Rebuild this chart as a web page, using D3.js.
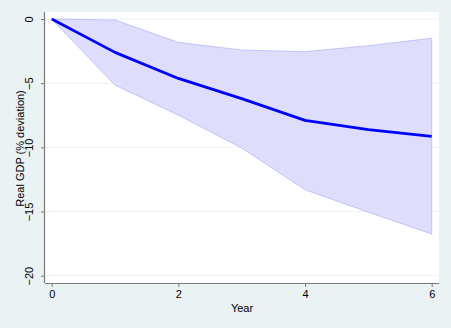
<!DOCTYPE html>
<html>
<head>
<meta charset="utf-8">
<script src="https://cdn.jsdelivr.net/npm/d3@7/dist/d3.min.js"></script>
<style>
  html, body { margin: 0; padding: 0; background: #eaf2f3; }
  svg { display: block; font-family: "Liberation Sans", Arial, sans-serif; }
</style>
</head>
<body>
<svg id="chart" width="451" height="328"></svg>
<script>
// Impulse response of real GDP with confidence band
const years   = [0, 1, 2, 3, 4, 5, 6];
const estimate = [0, -2.6, -4.63, -6.2, -7.9, -8.62, -9.14];
const upper    = [0, -0.08, -1.82, -2.42, -2.55, -2.08, -1.5];
const lower    = [0, -5.15, -7.49, -10.05, -13.3, -15.05, -16.75];
const xTicks = [0, 2, 4, 6];
const yTicks = [0, -5, -10, -15, -20];

const svg = d3.select("#chart");
const W = 451, H = 328;
const plot = { left: 45, right: 439, top: 12, bottom: 283 };

svg.append("rect").attr("width", W).attr("height", H).attr("fill", "#eaf2f3");
svg.append("rect")
  .attr("x", plot.left).attr("y", plot.top)
  .attr("width", plot.right - plot.left).attr("height", plot.bottom - plot.top)
  .attr("fill", "#ffffff");

const x = d3.scaleLinear().domain([0, 6]).range([51.7, 431.7]);
const y = d3.scaleLinear().domain([0, -20]).range([19, 275.7]);

// horizontal grid lines
svg.append("g").selectAll("line")
  .data(yTicks)
  .join("line")
  .attr("x1", plot.left).attr("x2", plot.right)
  .attr("y1", d => y(d)).attr("y2", d => y(d))
  .attr("stroke", "#eaf2f3").attr("stroke-width", 1);

const rows = years.map((t, i) => ({ t, est: estimate[i], hi: upper[i], lo: lower[i] }));

// confidence band
svg.append("path")
  .datum(rows)
  .attr("d", d3.area().x(d => x(d.t)).y0(d => y(d.lo)).y1(d => y(d.hi)))
  .attr("fill", "#dedefc")
  .attr("stroke", "#b8b8f8")
  .attr("stroke-width", 0.8);

// point estimate
svg.append("path")
  .datum(rows)
  .attr("d", d3.line().x(d => x(d.t)).y(d => y(d.est)))
  .attr("fill", "none")
  .attr("stroke", "#0000ff")
  .attr("stroke-width", 2.8)
  .attr("stroke-linejoin", "round");

// axes
const xAxis = svg.append("g")
  .attr("transform", `translate(0,${plot.bottom})`)
  .call(d3.axisBottom(x).tickValues(xTicks).tickSize(4).tickPadding(3).tickFormat(d3.format("d")));
xAxis.select(".domain").attr("d", `M${plot.left},0.5H${plot.right}`);

const yAxis = svg.append("g")
  .attr("transform", `translate(${plot.left},0)`)
  .call(d3.axisLeft(y).tickValues(yTicks).tickSize(4).tickPadding(3).tickFormat(d3.format("d")));
yAxis.select(".domain").attr("d", `M-0.5,${plot.top}V${plot.bottom}`);

[xAxis, yAxis].forEach(g => {
  g.select(".domain").attr("stroke", "#7a7a7a").attr("stroke-width", 1.2);
  g.selectAll(".tick line").attr("stroke", "#7a7a7a");
  g.selectAll("text").attr("font-size", 11).attr("fill", "#000")
    .attr("font-family", "'Liberation Sans', Arial, sans-serif");
});

// rotate y tick labels to read upward
yAxis.selectAll(".tick text")
  .attr("text-anchor", "middle")
  .attr("x", null).attr("dy", null)
  .attr("transform", "translate(-12,0) rotate(-90)");

// axis titles
svg.append("text")
  .attr("x", 242).attr("y", 312)
  .attr("text-anchor", "middle")
  .attr("font-size", 11)
  .text("Year");

svg.append("text")
  .attr("transform", `translate(24,${(plot.top + plot.bottom) / 2 + 1}) rotate(-90)`)
  .attr("text-anchor", "middle")
  .attr("font-size", 11)
  .text("Real GDP (% deviation)");
</script>
</body>
</html>
